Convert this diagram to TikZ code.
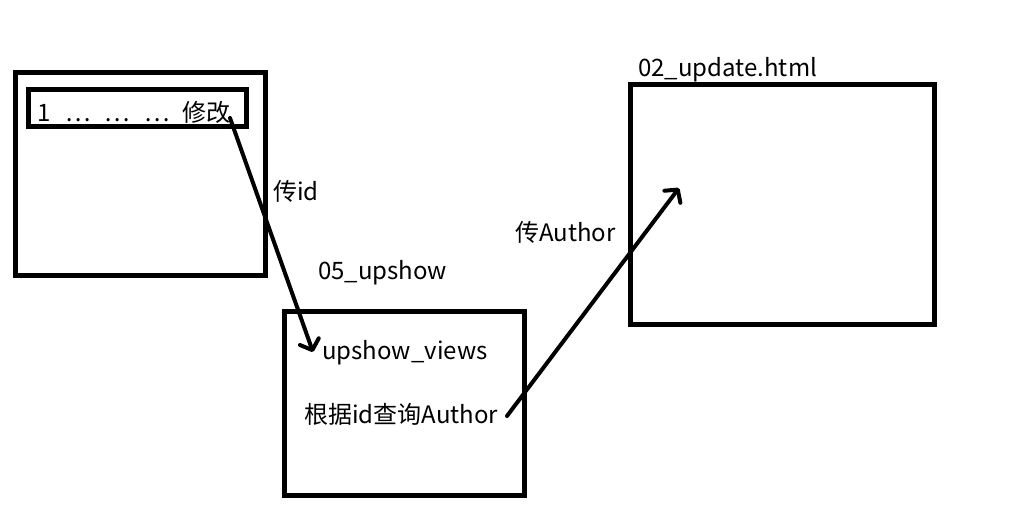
\documentclass[tikz,border=0pt]{standalone}
\usepackage{fontspec}
\setmainfont{Noto Sans CJK SC}
\usetikzlibrary{arrows.meta}
\begin{document}
\begin{tikzpicture}[x=1pt,y=-1pt,
  frame/.style={draw=black,line width=5pt},
  lbl/.style={inner sep=0pt,anchor=west,font=\fontsize{24}{28}\selectfont},
  conn/.style={draw=black,line width=4pt,line cap=round,
    -{Straight Barb[length=9pt,width=20pt,line width=4pt,round]}}]
\useasboundingbox (0,0) rectangle (1018,524);
% boxes
\draw[frame] (15.5,72.5) rectangle (265.5,275.5);
\draw[frame] (28,90) rectangle (246,126.5);
\draw[frame] (284.5,311) rectangle (524,495);
\draw[frame] (630.5,84.5) rectangle (934.5,324.5);
% texts
\node[lbl] (row) at (37,112.5) {\makebox[28pt][l]{1}\makebox[39pt][l]{…}\makebox[40pt][l]{…}\makebox[38pt][l]{…}修改};
\node[lbl] (tid) at (273,191) {传id};
\node[lbl] (up) at (318,273) {05\_upshow};
\node[lbl] (views) at (322,353) {upshow\_views};
\node[lbl] (query) at (304,414) {根据id查询Author};
\node[lbl] (tauth) at (515,232) {传Author};
\node[lbl] (upd) at (638,70) {02\_update.html};
% connector ends
\coordinate (a1s) at (230,118);
\coordinate (a1e) at (313,352);
\coordinate (a2s) at (507,416);
\coordinate (a2e) at (679,188);
\draw[conn] (a1s) -- (a1e);
\draw[conn] (a2s) -- (a2e);
\end{tikzpicture}
\end{document}
